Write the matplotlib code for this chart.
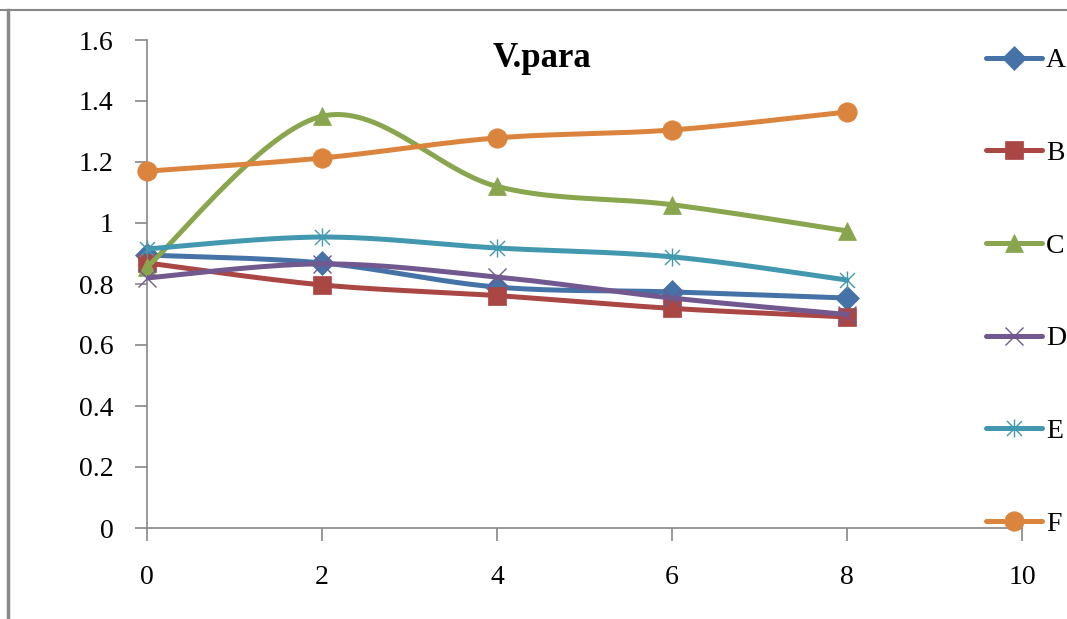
import matplotlib.pyplot as plt
import numpy as np
from matplotlib.path import Path
from matplotlib.lines import Line2D

plt.rcParams['font.family'] = ['Liberation Serif', 'DejaVu Serif']

x = [0, 2, 4, 6, 8]
a_vals = [0.895, 0.869, 0.790, 0.774, 0.754]
b_vals = [0.869, 0.797, 0.762, 0.720, 0.692]
c_vals = [0.856, 1.350, 1.120, 1.060, 0.974]
d_vals = [0.820, 0.866, 0.823, 0.754, 0.700]
e_vals = [0.915, 0.954, 0.918, 0.889, 0.813]
f_vals = [1.170, 1.213, 1.279, 1.305, 1.364]
names = ['A', 'B', 'C', 'D', 'E', 'F']
title = 'V.para'

colors = ['#4572A7', '#AA4643', '#89A54E', '#71588F', '#4198AF', '#DB843D']

# asterisk marker: an x plus a vertical bar
star = Path([(-1, -1), (1, 1), (-1, 1), (1, -1), (0, -1.2), (0, 1.2)],
            [Path.MOVETO, Path.LINETO, Path.MOVETO, Path.LINETO,
             Path.MOVETO, Path.LINETO])
markers = ['D', 's', '^', 'x', star, 'o']
sizes = [12, 13, 13, 13, 13, 14]


def smooth(xs, ys, n=40):
    # bezier smoothing between points, tangents from the neighbours
    p = np.column_stack([xs, ys]).astype(float)
    k = len(p)
    out = [p[:1]]
    t = np.linspace(0, 1, n)[1:, None]
    for i in range(k - 1):
        p0 = p[max(i - 1, 0)]
        p3 = p[min(i + 2, k - 1)]
        c1 = p[i] + (p[i + 1] - p0) / 6
        c2 = p[i + 1] - (p3 - p[i]) / 6
        seg = ((1 - t) ** 3 * p[i] + 3 * (1 - t) ** 2 * t * c1
               + 3 * (1 - t) * t ** 2 * c2 + t ** 3 * p[i + 1])
        out.append(seg)
    out = np.vstack(out)
    return out[:, 0], out[:, 1]


fig = plt.figure(figsize=(10.67, 6.19), dpi=100)
ax = fig.add_axes([147 / 1067, 1 - 528 / 619, 875 / 1067, 488 / 619])

handles = []
for i, vals in enumerate([a_vals, b_vals, c_vals, d_vals, e_vals, f_vals]):
    sx, sy = smooth(x, vals)
    ax.plot(sx, sy, color=colors[i], lw=3.6, solid_capstyle='round',
            zorder=2 + i)
    thin = i in (3, 4)
    ax.plot(x, vals, ls='none', marker=markers[i], ms=sizes[i],
            color=colors[i], mew=1.0 if thin else 0.5, zorder=2.5 + i,
            clip_on=False)
    handles.append(Line2D([], [], color=colors[i], lw=3.6,
                          solid_capstyle='round', marker=markers[i],
                          ms=sizes[i], mew=1.0 if thin else 0.5))

ax.set_xlim(0, 10)
ax.set_ylim(0, 1.6)
ax.set_xticks(range(0, 11, 2))
ax.set_yticks(np.arange(0, 1.61, 0.2))
ax.set_yticklabels(['0', '0.2', '0.4', '0.6', '0.8', '1', '1.2', '1.4', '1.6'])
for s in ['top', 'right']:
    ax.spines[s].set_visible(False)
for s in ['left', 'bottom']:
    ax.spines[s].set_color('#888888')
    ax.spines[s].set_linewidth(1.2)
ax.tick_params(axis='both', colors='#888888', labelcolor='black',
               labelsize=20, length=9, width=1.2, direction='out')
ax.tick_params(axis='y', pad=15)
ax.tick_params(axis='x', pad=18)

fig.text(542 / 1067, 1 - 67 / 619, title, ha='center', va='baseline',
         fontsize=25, fontweight='bold')

fig.legend(handles, names, loc='upper left',
           bbox_to_anchor=(986 / 1067, 1 - 48 / 619), frameon=False,
           fontsize=20, handlelength=2.0, handletextpad=0.15,
           labelspacing=2.42, borderpad=0, borderaxespad=0)

# outer chart border (top and left edges)
fig.add_artist(Line2D([0, 1], [1 - 10 / 619, 1 - 10 / 619],
                      color='#888888', lw=1.5, transform=fig.transFigure))
fig.add_artist(Line2D([8 / 1067, 8 / 1067], [0, 1 - 10 / 619],
                      color='#888888', lw=2.5, transform=fig.transFigure))

fig.savefig('out.png', dpi=100)
